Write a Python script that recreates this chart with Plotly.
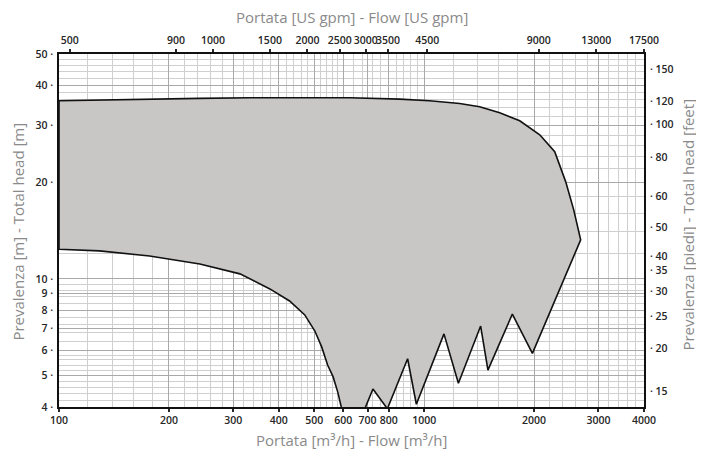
import numpy as np
import plotly.graph_objects as go

# ---------------- data (flow in m3/h, head in m) ----------------
# upper envelope, left -> right
upper_flow = [100, 129, 177, 243, 333, 456, 625, 857, 1035, 1251, 1419, 1610, 1827, 2073, 2278, 2442, 2568, 2683]
upper_head = [35.8, 36.0, 36.3, 36.4, 36.55, 36.55, 36.55, 36.2, 35.8, 35.1, 34.3, 32.85, 31.0, 28.06, 24.84, 20.03, 16.39, 13.22]
# right saw-tooth edge, from the tip going down-left
zig_flow = [1979, 1744, 1495, 1428, 1241, 1133, 952, 901, 793, 724, 690, 655]
zig_head = [5.87, 7.78, 5.21, 7.14, 4.74, 6.75, 4.08, 5.65, 3.95, 4.55, 4.0, 3.45]
# lower envelope, right -> left
lower_flow = [620, 593, 580, 563, 544, 524, 502, 471, 428, 378, 313, 243, 177, 129, 100]
lower_head = [3.4, 4.0, 4.45, 4.97, 5.4, 6.15, 6.89, 7.73, 8.54, 9.31, 10.37, 11.13, 11.79, 12.22, 12.37]

# bottom axis (m3/h) labels
x_ticks = [100, 200, 300, 400, 500, 600, 700, 800, 1000, 2000, 3000, 4000]
# top axis (US gpm) labels and where they sit on the m3/h scale
gpm_labels = ["500", "900", "1000", "1500", "2000", "2500", "3000", "3500", "4500", "9000", "13000", "17500"]
gpm_pos = [107, 209, 264, 378, 479, 587, 692, 796, 1020, 2059, 2962, 4000]
# left axis (m) labels
y_ticks = [4, 5, 6, 7, 8, 9, 10, 20, 30, 40, 50]
# right axis (feet) labels and where they sit on the m scale
ft_labels = ["150", "120", "100", "80", "60", "50", "40", "35", "30", "25", "20", "15"]
ft_pos = [44.9, 35.7, 30.3, 23.9, 18.1, 14.47, 11.75, 10.6, 9.135, 7.64, 6.09, 4.46]

# grid
x_grid = list(np.arange(100, 600, 20)) + list(np.arange(600, 1000, 40)) + list(np.arange(1000, 4001, 200))
y_grid = (list(np.round(np.arange(4, 6, 0.2), 2)) + list(np.round(np.arange(6, 10, 0.4), 2))
          + list(np.arange(10, 51, 2)))

X_RANGE = [2, np.log10(4000)]
Y_RANGE = [np.log10(4), np.log10(50)]

poly_x = upper_flow + zig_flow + lower_flow + [upper_flow[0]]
poly_y = upper_head + zig_head + lower_head + [upper_head[0]]

TICKFONT = dict(family="Open Sans", size=10.5, color="#262626", weight=600)
TITLEFONT = dict(family="Open Sans", size=15, color="#8a8a8a")
GRID_MAJ = "#a9a9a9"
GRID_MIN = "#cfcfcf"
AXLINE = dict(showline=True, linecolor="#111111", linewidth=1.6, zeroline=False,
              automargin=False, tickangle=0)
XTICK = dict(ticks="outside", ticklen=3, tickwidth=2, tickcolor="#262626")

fig = go.Figure()
fig.add_trace(go.Scatter(
    x=poly_x, y=poly_y, mode="lines", fill="toself",
    fillcolor="#c8c7c6", line=dict(color="#111111", width=1.6),
    hoverinfo="skip", showlegend=False))
fig.add_trace(go.Scatter(x=[100, 4000], y=[4, 50], xaxis="x2", yaxis="y2", mode="none",
                         hoverinfo="skip", showlegend=False))

# page body adds an 8 px margin, so the figure is drawn 8 px smaller
fig.update_layout(
    width=696, height=449,
    margin=dict(l=51, r=60, t=46, b=50),
    paper_bgcolor="white", plot_bgcolor="white",
    xaxis=dict(
        type="log", range=X_RANGE, **AXLINE, **XTICK,
        tickmode="array", tickvals=x_ticks, ticktext=[str(v) for v in x_ticks],
        tickfont=TICKFONT, ticklabelstandoff=0,
        showgrid=True, gridcolor=GRID_MAJ, gridwidth=1,
        minor=dict(tickmode="array", tickvals=x_grid, showgrid=True, gridcolor=GRID_MIN, gridwidth=1, ticks="")),
    xaxis2=dict(
        type="log", range=X_RANGE, overlaying="x", side="top", **AXLINE, **XTICK,
        tickmode="array", tickvals=gpm_pos, ticktext=gpm_labels,
        tickfont=TICKFONT, ticklabelstandoff=1, showgrid=False),
    yaxis=dict(
        type="log", range=Y_RANGE, **AXLINE, ticks="",
        tickmode="array", tickvals=y_ticks, ticktext=[str(v) + " ·" for v in y_ticks],
        tickfont=TICKFONT, ticklabelstandoff=2,
        showgrid=True, gridcolor=GRID_MAJ, gridwidth=1,
        minor=dict(tickmode="array", tickvals=y_grid, showgrid=True, gridcolor=GRID_MIN, gridwidth=1, ticks="")),
    yaxis2=dict(
        type="log", range=Y_RANGE, overlaying="y", side="right", **AXLINE, ticks="",
        tickmode="array", tickvals=ft_pos, ticktext=["· " + s for s in ft_labels],
        tickfont=TICKFONT, ticklabelstandoff=2, showgrid=False),
)

fig.add_annotation(text="Portata [US gpm] - Flow [US gpm]", xref="paper", yref="paper",
                   x=0.5, y=1.106, xanchor="center", yanchor="middle", showarrow=False, font=TITLEFONT)
fig.add_annotation(text="Portata [m³/h] - Flow [m³/h]", xref="paper", yref="paper",
                   x=0.5, y=-0.094, xanchor="center", yanchor="middle", showarrow=False, font=TITLEFONT)
fig.add_annotation(text="Prevalenza [m] - Total head [m]", xref="paper", yref="paper",
                   x=-0.0706, y=0.496, xanchor="center", yanchor="middle", textangle=-90,
                   showarrow=False, font=TITLEFONT)
fig.add_annotation(text="Prevalenza [piedi] - Total head [feet]", xref="paper", yref="paper",
                   x=1.0747, y=0.516, xanchor="center", yanchor="middle", textangle=-90,
                   showarrow=False, font=TITLEFONT)

fig.write_html("out.html")
